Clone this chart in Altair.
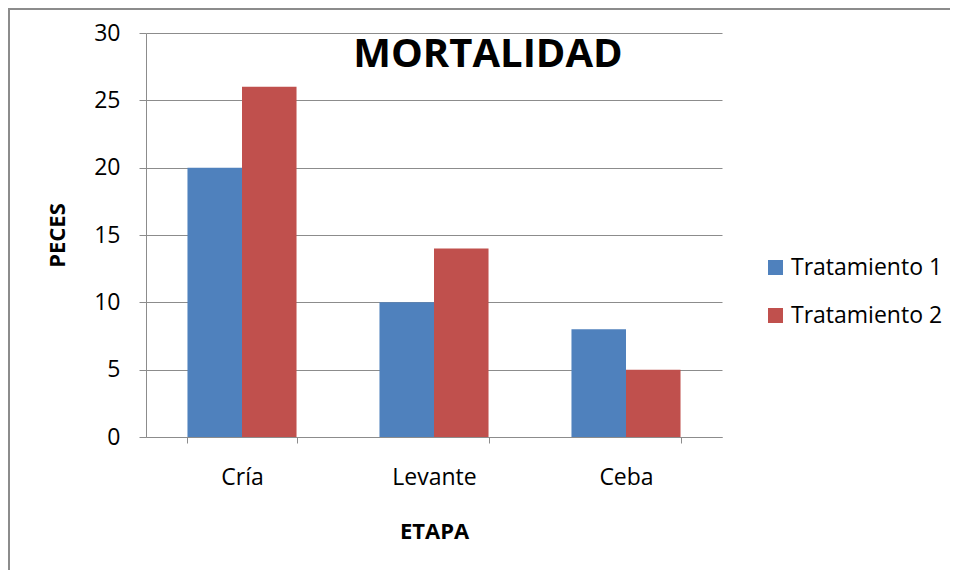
import altair as alt
import pandas as pd

etapas = ["Cría", "Levante", "Ceba"]
tratamientos = ["Tratamiento 1", "Tratamiento 2"]
tratamiento_1 = [20, 10, 8]
tratamiento_2 = [26, 14, 5]
colores = ["#4F81BD", "#C0504D"]
y_ticks = [0, 5, 10, 15, 20, 25, 30]
titulo = "MORTALIDAD"

rows = []
for i, e in enumerate(etapas):
    rows.append({"etapa": e, "trat": tratamientos[0], "peces": tratamiento_1[i]})
    rows.append({"etapa": e, "trat": tratamientos[1], "peces": tratamiento_2[i]})
df = pd.DataFrame(rows)

FONT = "Open Sans"
GRID = "#8c8c8c"

bars = alt.Chart(df).mark_bar().encode(
    x=alt.X("etapa:N", sort=etapas,
            scale=alt.Scale(paddingInner=0.432, paddingOuter=0.216),
            axis=alt.Axis(title="ETAPA", labelAngle=0, labelFontSize=23, labelFont=FONT,
                          labelColor="black", labelPadding=23, tickSize=6, tickBand="extent",
                          tickColor=GRID, domainColor=GRID, titleFontSize=22, titleFont=FONT,
                          titleFontWeight="bold", titleY=94, titleBaseline="middle")),
    xOffset=alt.XOffset("trat:N", sort=tratamientos),
    y=alt.Y("peces:Q", scale=alt.Scale(domain=[0, 30], nice=False),
            axis=alt.Axis(title="PECES", values=y_ticks, labelFontSize=23, labelFont=FONT,
                          labelColor="black", labelPadding=19, tickSize=7, tickColor=GRID,
                          domainColor=GRID, gridColor=GRID, grid=True, titleFontSize=22,
                          titleFont=FONT, titleFontWeight="bold", titleX=-89,
                          titleBaseline="middle")),
    color=alt.Color("trat:N", sort=tratamientos,
                    scale=alt.Scale(domain=tratamientos, range=colores),
                    legend=alt.Legend(title=None, orient="none", legendX=618, legendY=223,
                                      symbolType="square", symbolSize=225, symbolStrokeWidth=0,
                                      labelFontSize=23, labelFont=FONT, labelColor="black",
                                      rowPadding=24, labelOffset=4)),
)

frame = pd.DataFrame({"a": [0]})
left_border = alt.Chart(frame).mark_rule(color="#8c8c8c", strokeWidth=2).encode(
    x=alt.value(-137), y=alt.value(-25), y2=alt.value(540))
top_border = alt.Chart(frame).mark_rule(color="#8c8c8c", strokeWidth=2).encode(
    x=alt.value(-138), x2=alt.value(812), y=alt.value(-24))
title_text = alt.Chart(frame).mark_text(
    text=titulo, font=FONT, fontSize=40, fontWeight="bold", color="black",
    align="center", baseline="middle").encode(x=alt.value(342), y=alt.value(22))

chart = alt.layer(bars, left_border, top_border, title_text).properties(
    width=576, height=404,
    autosize=alt.AutoSizeParams(type="none"),
    padding={"left": 138, "top": 25, "right": 228, "bottom": 133},
).configure_view(stroke=None).configure_axis(gridWidth=1)

chart.save("out.html", embed_options={"renderer": "svg", "actions": False})
